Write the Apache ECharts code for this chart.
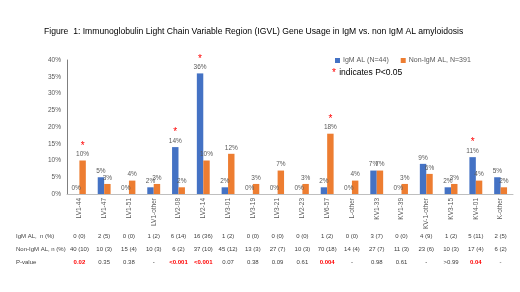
<!DOCTYPE html>
<html>
<head>
<meta charset="utf-8">
<script src="https://cdn.jsdelivr.net/npm/echarts@6/dist/echarts.min.js"></script>
<style>
  html, body { margin: 0; padding: 0; background: #fff; }
  #chart { width: 520px; height: 292px; }
</style>
</head>
<body>
<div id="chart"></div>
<script>
  // gene segments on the x axis
  const categories = ['LV1-44', 'LV1-47', 'LV1-51', 'LV1-other', 'LV2-08', 'LV2-14', 'LV3-01', 'LV3-19',
    'LV3-21', 'LV2-23', 'LV6-57', 'L-other', 'KV1-33', 'KV1-39', 'KV-1-other', 'KV3-15', 'KV4-01', 'K-other'];

  // percentages per group
  const igmPct = [0, 5, 0, 2, 14, 36, 2, 0, 0, 0, 2, 0, 7, 0, 9, 2, 11, 5];
  const nonIgmPct = [10, 3, 4, 3, 2, 10, 12, 3, 7, 3, 18, 4, 7, 3, 6, 3, 4, 2];

  // table rows under the chart
  const igmCounts = ['0 (0)', '2 (5)', '0 (0)', '1 (2)', '6 (14)', '16 (36)', '1 (2)', '0 (0)', '0 (0)',
    '0 (0)', '1 (2)', '0 (0)', '3 (7)', '0 (0)', '4 (9)', '1 (2)', '5 (11)', '2 (5)'];
  const nonIgmCounts = ['40 (10)', '10 (3)', '15 (4)', '10 (3)', '6 (2)', '37 (10)', '45 (12)', '13 (3)', '27 (7)',
    '10 (3)', '70 (18)', '14 (4)', '27 (7)', '11 (3)', '23 (6)', '10 (3)', '17 (4)', '6 (2)'];
  const pValues = ['0.02', '0.35', '0.38', '-', '<0.001', '<0.001', '0.07', '0.38', '0.09',
    '0.61', '0.004', '-', '0.98', '0.61', '-', '>0.99', '0.04', '-'];
  const significant = [true, false, false, false, true, true, false, false, false,
    false, true, false, false, false, false, false, true, false];

  const yTicks = { min: 0, max: 40, interval: 5 };

  const grey = '#595959';
  const font = 'Liberation Sans';

  const chart = echarts.init(document.getElementById('chart'));

  // label for a bar; red star above the taller bar of a significant pair
  const barLabel = (mine, other) => (p) => {
    const i = p.dataIndex;
    const txt = mine[i] + '%';
    if (significant[i] && mine[i] > other[i]) {
      return '{s|*}\n{v|' + txt + '}';
    }
    return '{v|' + txt + '}';
  };

  const labelRich = {
    v: { fontSize: 6.5, color: grey, fontFamily: font, lineHeight: 8 },
    s: { fontSize: 10, color: '#ff0000', fontFamily: font, lineHeight: 9 }
  };

  // one hidden-line category axis per table row
  const tableAxis = (rowData, offset, isP) => ({
    type: 'category',
    data: rowData,
    position: 'bottom',
    offset: offset,
    axisLine: { show: false },
    axisTick: { show: false },
    axisLabel: {
      interval: 0,
      margin: 0,
      fontSize: 6,
      fontFamily: font,
      color: '#404040',
      formatter: isP ? (v, i) => significant[i] ? '{r|' + v + '}' : v : undefined,
      rich: { r: { color: '#ff0000', fontWeight: 'bold', fontSize: 6, fontFamily: font } }
    }
  });

  const rowLabel = (text, top) => ({
    type: 'text', left: 16, top: top,
    style: { text: text, fontSize: 6, fill: '#404040', fontFamily: font }
  });

  const option = {
    animation: false,
    textStyle: { fontFamily: font },
    title: {
      text: 'Figure  1: Immunoglobulin Light Chain Variable Region (IGVL) Gene Usage in IgM vs. non IgM AL amyloidosis',
      left: 39,
      top: 22,
      textStyle: { fontSize: 8.6, fontWeight: 'normal', color: '#000', fontFamily: font }
    },
    legend: {
      left: 330,
      top: 52,
      itemWidth: 5,
      itemHeight: 5,
      itemGap: 12,
      icon: 'rect',
      textStyle: { fontSize: 7, color: grey, fontFamily: font, padding: [0, 0, 0, -2] },
      data: ['IgM AL (N=44)', 'Non-IgM AL, N=391']
    },
    graphic: [
      {
        type: 'text', left: 332, top: 67,
        style: {
          text: '{s|*} {t|indicates P<0.05}',
          rich: {
            s: { fontSize: 10, fill: '#ff0000', fontFamily: font },
            t: { fontSize: 8.5, fill: '#000', fontFamily: font }
          }
        }
      },
      rowLabel('IgM AL,  n (%)', 233),
      rowLabel('Non-IgM AL, n (%)', 246),
      rowLabel('P-value', 259)
    ],
    grid: { left: 67, right: 7, top: 60, bottom: 98 },
    xAxis: [
      {
        type: 'category',
        data: categories,
        axisLine: { lineStyle: { color: '#bfbfbf' } },
        axisTick: { show: false },
        axisLabel: { interval: 0, rotate: 90, fontSize: 6.5, color: grey, margin: 4, fontFamily: font }
      },
      tableAxis(igmCounts, 39, false),
      tableAxis(nonIgmCounts, 52, false),
      tableAxis(pValues, 65, true)
    ],
    yAxis: {
      type: 'value',
      min: yTicks.min,
      max: yTicks.max,
      interval: yTicks.interval,
      axisLine: { show: true, lineStyle: { color: '#7f7f7f', width: 1 } },
      axisTick: { show: false },
      splitLine: { show: false },
      axisLabel: { formatter: '{value}%', fontSize: 6.5, color: grey, margin: 6, fontFamily: font }
    },
    series: [
      {
        name: 'IgM AL (N=44)',
        type: 'bar',
        data: igmPct,
        barGap: '0%',
        barCategoryGap: '48%',
        itemStyle: { color: '#4472c4' },
        label: { show: true, position: 'top', distance: 2, formatter: barLabel(igmPct, nonIgmPct), rich: labelRich }
      },
      {
        name: 'Non-IgM AL, N=391',
        type: 'bar',
        data: nonIgmPct,
        itemStyle: { color: '#ed7d31' },
        label: { show: true, position: 'top', distance: 2, formatter: barLabel(nonIgmPct, igmPct), rich: labelRich }
      }
    ]
  };

  chart.setOption(option);
</script>
</body>
</html>
